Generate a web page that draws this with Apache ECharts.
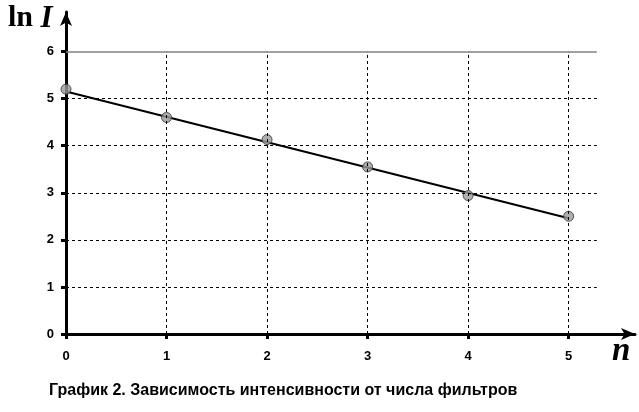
<!DOCTYPE html>
<html><head><meta charset="utf-8">
<script src="https://cdn.jsdelivr.net/npm/echarts@6/dist/echarts.min.js"></script>
<style>html,body{margin:0;padding:0;background:#fff}#c{width:639px;height:412px}</style>
</head><body><div id="c"></div>
<script>
const nValues = [0, 1, 2, 3, 4, 5];
const lnIValues = [5.20, 4.60, 4.13, 3.55, 2.94, 2.50];
const fitLine = [[0, 5.15], [5, 2.46]];
const xTicks = [1, 2, 3, 4, 5];
const yTicks = [1, 2, 3, 4, 5];
const gridXMax = 5.28;
const gridYMax = 6;
const xAxisMax = 5.66;
const yAxisMax = 6.84;
const captionText = 'График 2. Зависимость интенсивности от числа фильтров';

const chart = echarts.init(document.getElementById('c'), null, {renderer: 'canvas'});
const dashed = {color: '#000', type: [3, 3], width: 1};
const gridLines = [];
xTicks.forEach(x => gridLines.push([{coord: [x, 0], lineStyle: dashed}, {coord: [x, gridYMax]}]));
yTicks.forEach(y => gridLines.push([{coord: [0, y], lineStyle: dashed}, {coord: [gridXMax, y]}]));
gridLines.push([{coord: [0, gridYMax], lineStyle: {color: '#808080', type: 'solid', width: 1.5}}, {coord: [gridXMax, gridYMax]}]);

chart.setOption({
  animation: false,
  title: {
    text: captionText, left: 49, top: 383, padding: 0,
    textStyle: {fontFamily: 'Liberation Sans', fontSize: 16, fontWeight: 'bold', color: '#000'}
  },
  grid: {left: 66, right: 4, top: 12, bottom: 78, containLabel: false},
  xAxis: {
    type: 'value', min: 0, max: xAxisMax, interval: 1,
    axisLine: {show: true, onZero: false, lineStyle: {color: '#000', width: 3}, symbol: ['none', 'arrow'], symbolSize: [9, 14]},
    axisTick: {show: true, length: 5, lineStyle: {color: '#000', width: 3}},
    axisLabel: {margin: 16, showMaxLabel: false, color: '#000', fontFamily: 'Liberation Sans', fontWeight: 'bold', fontSize: 13},
    splitLine: {show: false}
  },
  yAxis: {
    type: 'value', min: 0, max: yAxisMax, interval: 1,
    axisLine: {show: true, onZero: false, lineStyle: {color: '#000', width: 3}, symbol: ['none', 'arrow'], symbolSize: [9, 14]},
    axisTick: {show: true, length: 5, lineStyle: {color: '#000', width: 3}},
    axisLabel: {margin: 12, showMaxLabel: false, color: '#000', fontFamily: 'Liberation Sans', fontWeight: 'bold', fontSize: 13},
    splitLine: {show: false}
  },
  graphic: [
    {type: 'text', left: 8, top: 3, style: {
      text: '{a|ln }{b|I}',
      rich: {
        a: {fontFamily: 'Liberation Serif', fontWeight: 'bold', fontSize: 30, fill: '#000'},
        b: {fontFamily: 'Liberation Serif', fontWeight: 'bold', fontStyle: 'italic', fontSize: 31, fill: '#000'}
      }
    }},
    {type: 'text', left: 612, top: 335, style: {
      text: 'n', fontFamily: 'Liberation Serif', fontWeight: 'bold', fontStyle: 'italic', fontSize: 33, fill: '#000'
    }}
  ],
  series: [
    {
      type: 'line', data: [], silent: true,
      markLine: {silent: true, symbol: ['none', 'none'], label: {show: false}, data: gridLines}
    },
    {
      type: 'line', data: fitLine, showSymbol: false, symbol: 'none',
      lineStyle: {color: '#000', width: 2}, z: 3
    },
    {
      type: 'scatter', data: nValues.map((n, i) => [n, lnIValues[i]]),
      symbolSize: 10, itemStyle: {color: '#9a9a9a', borderColor: '#333', borderWidth: 1}, z: 4
    }
  ]
});
</script></body></html>
